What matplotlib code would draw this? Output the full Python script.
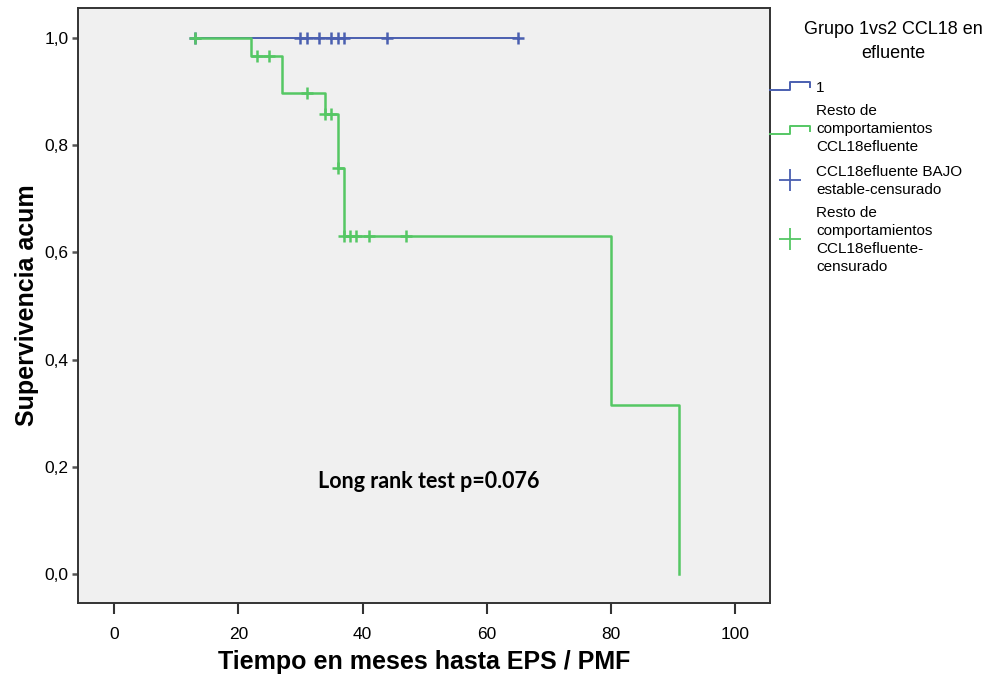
import numpy as np
import matplotlib.pyplot as plt
from matplotlib.lines import Line2D

# Kaplan-Meier data
grupo1_tiempos = [13, 65]
grupo1_surv = [1.0, 1.0]
grupo1_censura = [13, 30, 31, 33, 35, 36, 37, 44, 65]

resto_tiempos = [13, 22, 27, 34, 36, 37, 80, 91]
resto_surv = [1.0, 0.967, 0.897, 0.859, 0.757, 0.631, 0.316, 0.0]
resto_censura = [13, 23, 25, 31, 34, 35, 36, 37, 38, 39, 41, 47]

x_ticks = [0, 20, 40, 60, 80, 100]
y_ticks = [0.0, 0.2, 0.4, 0.6, 0.8, 1.0]
y_ticklabels = ['0,0', '0,2', '0,4', '0,6', '0,8', '1,0']

AZUL = '#4a5fb0'
VERDE = '#55c764'
ARIAL = ['Liberation Sans', 'DejaVu Sans']


def surv_at(tiempos, surv, t):
    i = np.searchsorted(tiempos, t, side='right') - 1
    return np.asarray(surv)[i]


fig = plt.figure(figsize=(10.03, 6.75), dpi=100)
ax = fig.add_axes([78 / 1003, 1 - 603 / 675, 692 / 1003, 595 / 675])
ax.set_facecolor('#f0f0f0')

ax.step(grupo1_tiempos, grupo1_surv, where='post', color=AZUL, lw=1.4, zorder=2)
ax.step(resto_tiempos, resto_surv, where='post', color=VERDE, lw=1.8, zorder=3)

ax.plot(grupo1_censura, [surv_at(grupo1_tiempos, grupo1_surv, t) for t in grupo1_censura],
        ls='none', marker='+', ms=9, mew=1.8, color=AZUL, zorder=2)
ax.plot(resto_censura, [surv_at(resto_tiempos, resto_surv, t) for t in resto_censura],
        ls='none', marker='+', ms=9, mew=1.8, color=VERDE, zorder=3)

ax.set_xlim(-5.8, 105.6)
ax.set_ylim(-0.054, 1.056)
ax.set_xticks(x_ticks)
ax.set_xticklabels([str(v) for v in x_ticks], family=ARIAL, fontsize=12.5)
ax.set_yticks(y_ticks)
ax.set_yticklabels(y_ticklabels, family=ARIAL, fontsize=12.5)
ax.tick_params(axis='x', length=8, width=1.5, color='#333333', pad=9)
ax.tick_params(axis='y', length=4, width=1.8, color='#555555', pad=3)
for s in ax.spines.values():
    s.set_color('#333333')
    s.set_linewidth(1.4)

ax.set_xlabel('Tiempo en meses hasta EPS / PMF', family=ARIAL, fontsize=18,
              fontweight='bold', labelpad=6)
ax.set_ylabel('Supervivencia acum', family=ARIAL, fontsize=18,
              fontweight='bold', labelpad=4)

ax.text(50.6, 0.172, 'Long rank test p=0.076', family=['Lato', 'DejaVu Sans'],
        fontsize=15.5, fontweight='bold', ha='center', va='center')

# legend drawn in pixel coordinates
lg = fig.add_axes([0, 0, 1, 1], facecolor='none')
lg.set_xlim(0, 1003)
lg.set_ylim(675, 0)
lg.axis('off')

lg.text(893, 30, 'Grupo 1vs2 CCL18 en', family=ARIAL, fontsize=13, ha='center', va='center')
lg.text(893, 54, 'efluente', family=ARIAL, fontsize=13, ha='center', va='center')

for y0, col in [(90, AZUL), (134, VERDE)]:
    lg.add_line(Line2D([770, 790, 790, 810, 810], [y0, y0, y0 - 8, y0 - 8, y0 - 3],
                       color=col, lw=1.4))
lg.plot([790], [180], marker='+', ms=16, mew=1.3, color=AZUL)
lg.plot([790], [239], marker='+', ms=16, mew=1.3, color=VERDE)

leg_textos = [(88, '1'), (111, 'Resto de'), (129, 'comportamientos'), (147, 'CCL18efluente'),
              (172, 'CCL18efluente BAJO'), (190, 'estable-censurado'),
              (213, 'Resto de'), (231, 'comportamientos'), (249, 'CCL18efluente-'),
              (267, 'censurado')]
for y, t in leg_textos:
    lg.text(816, y, t, family=ARIAL, fontsize=11, ha='left', va='center')

fig.savefig('out.png', dpi=100, facecolor='white')
